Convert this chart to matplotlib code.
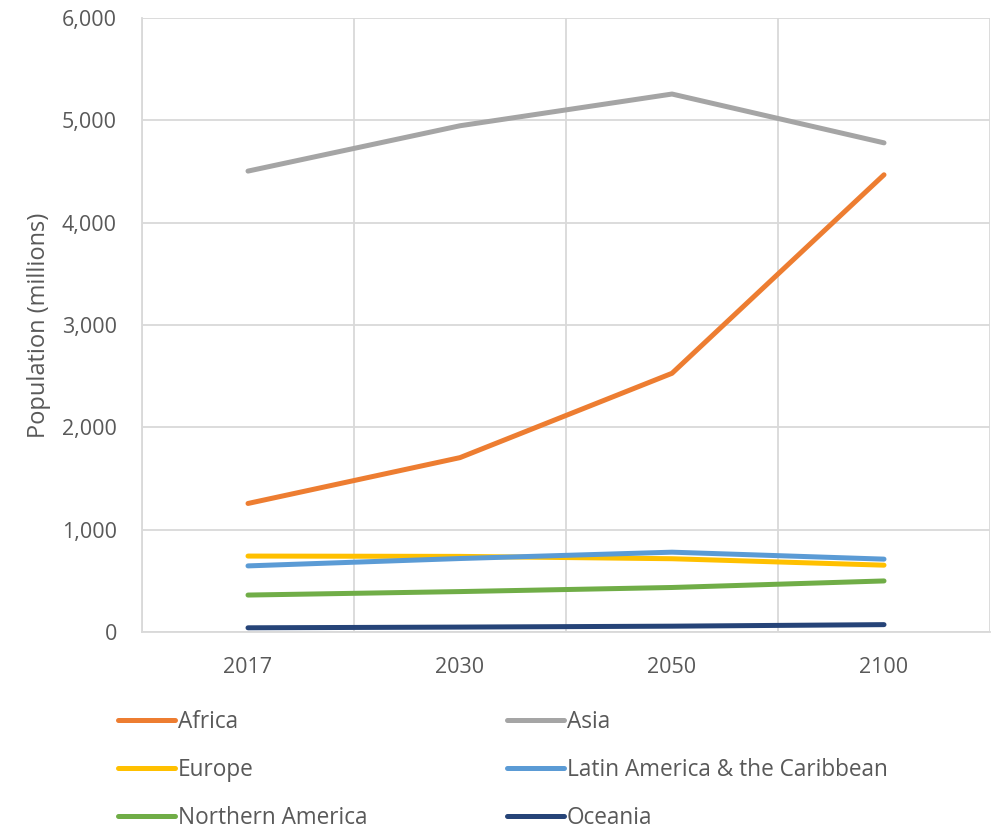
import numpy as np
import matplotlib.pyplot as plt
from matplotlib.ticker import FuncFormatter

plt.rcParams['font.family'] = ['Open Sans', 'DejaVu Sans']

# data
years = ['2017', '2030', '2050', '2100']
africa = [1256, 1704, 2528, 4468]
asia = [4504, 4947, 5257, 4780]
europe = [742, 739, 716, 653]
latin_america = [646, 718, 780, 712]
northern_america = [361, 395, 435, 499]
oceania = [41, 48, 57, 72]

names = ['Africa', 'Asia', 'Europe', 'Latin America & the Caribbean',
         'Northern America', 'Oceania']
series = [africa, asia, europe, latin_america, northern_america, oceania]
colors = ['#ED7D31', '#A5A5A5', '#FFC000', '#5B9BD5', '#70AD47', '#264478']

TXT = '#595959'
GRID = '#D9D9D9'
FS = 15.5

fig = plt.figure(figsize=(9.91, 8.30), dpi=100)
ax = fig.add_axes([142 / 991, 1 - 632 / 830, 848 / 991, 614 / 830])

x = np.arange(len(years))
lines = []
for vals, name, c in zip(series, names, colors):
    ln, = ax.plot(x, vals, color=c, lw=3.6, solid_capstyle='round',
                  solid_joinstyle='round', label=name)
    lines.append(ln)

ax.set_xlim(-0.5, len(years) - 0.5)
ax.set_ylim(0, 6000)
ax.set_yticks(np.arange(0, 6001, 1000))
ax.yaxis.set_major_formatter(FuncFormatter(lambda v, p: f'{int(v):,}'))
ax.set_xticks(x)
ax.set_xticklabels(years)
ax.set_xticks(np.arange(-0.5, len(years), 1), minor=True)

ax.grid(axis='y', which='major', color=GRID, lw=1.3)
ax.grid(axis='x', which='minor', color=GRID, lw=1.3)
ax.set_axisbelow(True)
for s in ['top', 'right']:
    ax.spines[s].set_visible(False)
for s in ['left', 'bottom']:
    ax.spines[s].set_color(GRID)
    ax.spines[s].set_linewidth(1.3)
ax.tick_params(which='both', length=0, labelsize=FS, colors=TXT)
ax.tick_params(axis='y', pad=18)
ax.tick_params(axis='x', pad=18)

ax.set_ylabel('Population (millions)', fontsize=17, color=TXT, labelpad=8)

# legend laid out in two columns, row-major like the reference
LFS = 16.3
col1 = [lines[0], lines[2], lines[4]]
col2 = [lines[1], lines[3], lines[5]]
for handles, xpos in [(col1, 118), (col2, 507)]:
    leg = fig.legend(handles=handles, loc='upper left',
                     bbox_to_anchor=(xpos / 991, 1 - 710 / 830),
                     frameon=False, fontsize=LFS, handlelength=2.5,
                     handletextpad=0.13, labelspacing=1.06,
                     borderaxespad=0, borderpad=0)
    for t in leg.get_texts():
        t.set_color(TXT)

fig.savefig('out.png', dpi=100)
